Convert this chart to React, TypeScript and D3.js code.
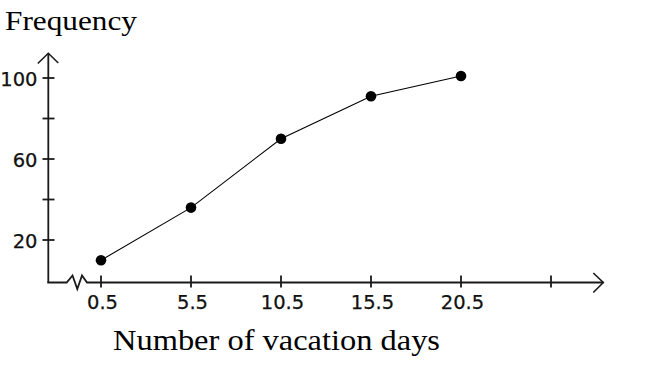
import React from "react";
import * as d3 from "d3";

const days = [0.5, 5.5, 10.5, 15.5, 20.5];
const frequency = [10, 36, 70, 91, 101];
const xTicks = [0.5, 5.5, 10.5, 15.5, 20.5, 25.5];
const xTickLabels = ["0.5", "5.5", "10.5", "15.5", "20.5", ""];
const yTicks = [20, 40, 60, 80, 100];
const yTickLabels = ["20", "", "60", "", "100"];

export default function App() {
  const W = 666, H = 365;
  const x = d3.scaleLinear().domain([0.5, 25.5]).range([101, 551]);
  const y = d3.scaleLinear().domain([0, 100]).range([280.5, 78]);
  const axisX = 48.3;
  const axisY = 282.5;
  const line = d3.line<number>().x((_, i) => x(days[i])).y((v) => y(v));
  const axisColor = "#1a1a1a";
  const tickFont = "'DejaVu Sans', sans-serif";
  const serif = "'Liberation Serif', 'DejaVu Serif', serif";
  return (
    <svg width={W} height={H} style={{ position: "absolute", left: 0, top: 0, background: "#fff" }}>
      <rect width={W} height={H} fill="#fff" />
      <text x={5} y={30} fontFamily={serif} fontSize={27.5} textLength={132} lengthAdjust="spacingAndGlyphs" fill="#000">Frequency</text>
      <text x={113} y={350} fontFamily={serif} fontSize={30} textLength={327} lengthAdjust="spacingAndGlyphs" fill="#000">Number of vacation days</text>
      {/* y axis */}
      <line x1={axisX} y1={axisY} x2={axisX} y2={53} stroke={axisColor} strokeWidth={1.8} />
      <polyline points={`${axisX - 10.5},63.5 ${axisX},53.3 ${axisX + 10},63`} fill="none" stroke={axisColor} strokeWidth={1.6} />
      {yTicks.map((t, i) => (
        <g key={t}>
          <line x1={42.5} x2={54.5} y1={y(t)} y2={y(t)} stroke={axisColor} strokeWidth={1.8} />
          {yTickLabels[i] && (
            <text x={37.5} y={y(t) + 7.5} textAnchor="end" fontFamily={tickFont} fontSize={19.5} fill="#111" stroke="#111" strokeWidth={0.25}>{yTickLabels[i]}</text>
          )}
        </g>
      ))}
      {/* x axis with break */}
      <polyline
        points={`${axisX - 1},${axisY} 66.7,${axisY} 72.5,275.5 77.3,289 82,275.5 87,${axisY} 603.3,${axisY}`}
        fill="none" stroke={axisColor} strokeWidth={1.8} strokeLinejoin="miter" />
      <polyline points={`593.3,273 603.3,${axisY} 593.3,292.5`} fill="none" stroke={axisColor} strokeWidth={1.6} />
      {xTicks.map((t, i) => (
        <g key={t}>
          <line x1={x(t)} x2={x(t)} y1={275.5} y2={287.5} stroke={axisColor} strokeWidth={1.8} />
          {xTickLabels[i] && (
            <text x={x(t) + 1.5} y={308.5} textAnchor="middle" fontFamily={tickFont} fontSize={19.5} fill="#111" stroke="#111" strokeWidth={0.25}>{xTickLabels[i]}</text>
          )}
        </g>
      ))}
      {/* data */}
      <path d={line(frequency) || ""} fill="none" stroke="#000" strokeWidth={1.1} />
      {frequency.map((v, i) => (
        <circle key={i} cx={x(days[i])} cy={y(v)} r={5.3} fill="#000" />
      ))}
    </svg>
  );
}
